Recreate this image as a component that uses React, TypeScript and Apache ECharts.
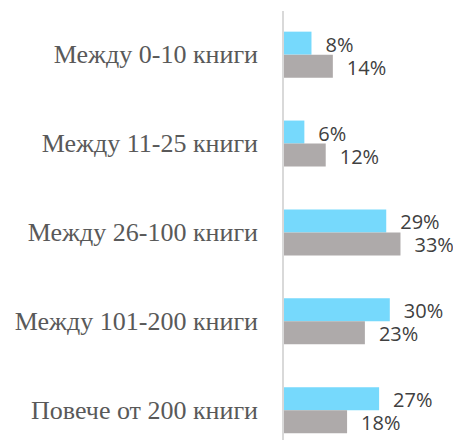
import React, { useEffect, useRef } from "react";
import * as echarts from "echarts";

const categories = [
  "Между 0-10 книги",
  "Между 11-25 книги",
  "Между 26-100 книги",
  "Между 101-200 книги",
  "Повече от 200 книги",
];
const seriesA = [8, 6, 29, 30, 27];
const seriesB = [14, 12, 33, 23, 18];

export default function App() {
  const ref = useRef<HTMLDivElement>(null);
  useEffect(() => {
    if (!ref.current) return;
    const chart = echarts.init(ref.current, undefined, { renderer: "svg" });
    const label = {
      show: true,
      position: "right",
      distance: 14,
      offset: [0, 1],
      formatter: "{c}%",
      color: "#404040",
      fontFamily: "Open Sans",
      fontSize: 20,
      lineHeight: 20,
    };
    chart.setOption({
      animation: false,
      grid: { left: 283, right: 0, top: 10.2, height: 444.5 },
      xAxis: {
        type: "value",
        min: 0,
        max: 50,
        show: false,
      },
      yAxis: {
        type: "category",
        data: categories,
        inverse: true,
        axisLine: { show: false },
        axisTick: { show: false },
        axisLabel: {
          margin: 25,
          color: "#595959",
          fontFamily: "Liberation Serif",
          fontSize: 26,
        },
      },
      graphic: [
        {
          type: "line",
          shape: { x1: 283, y1: 11, x2: 283, y2: 443 },
          style: { stroke: "#d9d9d9", lineWidth: 2 },
          z: 10,
        },
      ],
      series: [
        {
          type: "bar",
          data: seriesA,
          barWidth: 23,
          barGap: "0%",
          itemStyle: { color: "#76D9FC" },
          label,
        },
        {
          type: "bar",
          data: seriesB,
          barWidth: 23,
          barGap: "0%",
          itemStyle: { color: "#AEAAAA" },
          label,
        },
      ],
    });
    return () => chart.dispose();
  }, []);
  return (
    <div style={{ width: 461, height: 448, margin: -8, overflow: "hidden" }}>
      <div ref={ref} style={{ width: 461, height: 470 }} />
    </div>
  );
}
